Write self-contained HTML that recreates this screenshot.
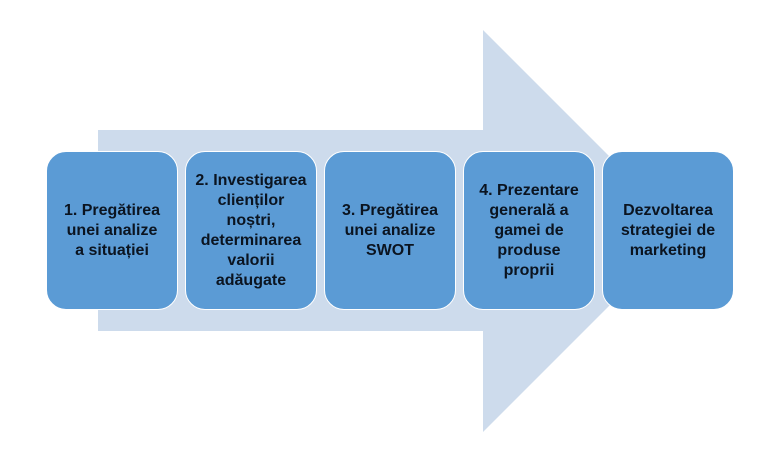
<!DOCTYPE html>
<html><head><meta charset="utf-8"><style>
html,body{margin:0;padding:0;background:#fff;}
body{width:780px;height:461px;position:relative;overflow:hidden;font-family:"Liberation Sans",sans-serif;}
svg{position:absolute;left:0;top:0;}
.b{position:absolute;top:151px;width:132px;height:159px;box-sizing:border-box;background:#5B9BD5;border:1.5px solid #fff;border-radius:20px;display:flex;align-items:center;justify-content:center;text-align:center;color:#0b1420;font-weight:bold;font-size:16px;line-height:20px;}
</style></head><body>
<svg width="780" height="461"><polygon points="98,130 483,130 483,30 684,231 483,432 483,331 98,331" fill="#CDDBEC"/></svg>
<div class="b" style="left:46px">1. Pregătirea<br>unei analize<br>a situației</div>
<div class="b" style="left:185px">2. Investigarea<br>clienților<br>noștri,<br>determinarea<br>valorii<br>adăugate</div>
<div class="b" style="left:324px">3. Pregătirea<br>unei analize<br>SWOT</div>
<div class="b" style="left:463px">4. Prezentare<br>generală a<br>gamei de<br>produse<br>proprii</div>
<div class="b" style="left:602px">Dezvoltarea<br>strategiei de<br>marketing</div>
</body></html>
